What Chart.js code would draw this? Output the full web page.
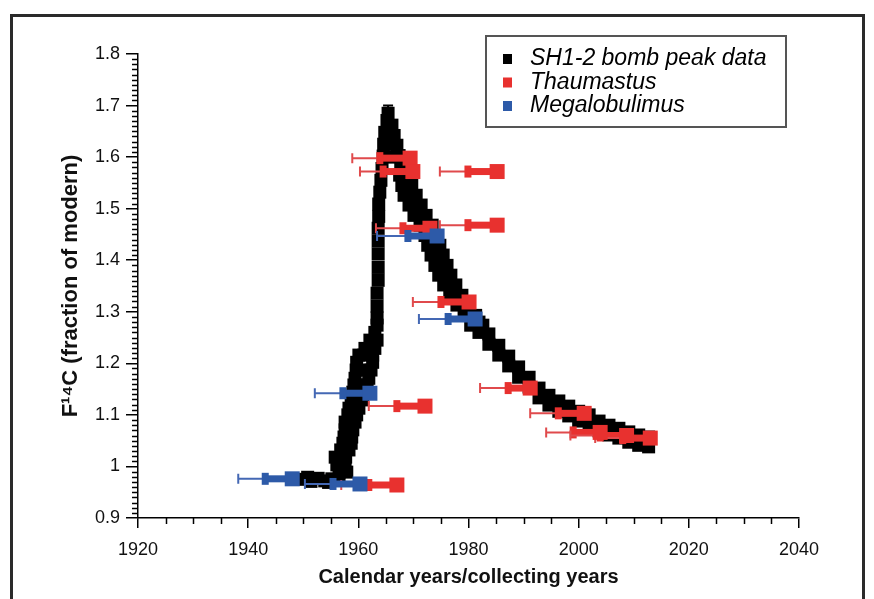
<!DOCTYPE html>
<html><head><meta charset="utf-8">
<script src="https://cdn.jsdelivr.net/npm/chart.js@4.4.1/dist/chart.umd.min.js"></script>
<style>html,body{margin:0;padding:0;background:#fff;} canvas{display:block;}</style>
</head><body>
<canvas id="c" width="874" height="599"></canvas>
<script>
// ---------- DATA ----------
const seriesNames = ['SH1-2 bomb peak data', 'Thaumastus', 'Megalobulimus'];

// SH1-2 bomb peak data (calendar year, F14C)
const bombYears = [
  1950.1,1950.8,1951.4,1952.7,1953.9,1954.6,1955.2,1956.5,
  1956.5,1957.9,1956.1,1957.6,1955.8,1957.7,1956.8,1958.3,1957.2,1958.7,1957.4,1958.8,
  1957.6,1959.0,1957.6,1959.4,1958.1,1959.7,1958.3,1960.1,1958.7,1960.8,1959.0,1961.2,
  1959.2,1961.6,1959.4,1961.9,1959.6,1962.3,1959.7,1962.6,1960.1,1962.6,1961.2,1963.0,
  1962.1,1963.4,1963.0,1963.4,1959.8,1960.3,1960.6,1961.0,
  1963.4,1963.4,1963.4,1963.6,1963.6,1963.6,1963.6,1963.6,1963.7,1963.7,1963.9,1964.1,
  1964.3,1964.5,1964.6,1964.8,1965.2,1965.4,1965.9,1966.0,1965.8,
  1966.1,1966.5,1967.0,1967.4,1967.7,1967.5,1969.0,1967.9,1969.7,1968.3,1970.5,1969.2,1971.4,
  1970.1,1972.3,1971.2,1973.4,1972.1,1974.3,1972.6,1974.8,1973.2,1975.4,1973.9,1976.1,
  1974.6,1976.8,1975.5,1977.7,1976.6,1978.8,1977.9,1980.1,1979.2,1981.3,1980.4,1982.6,
  1981.9,1981.9,1983.7,1983.7,1985.5,1985.5,1987.3,1987.3,1989.1,1989.1,1991.0,1991.0,
  1992.8,1992.8,1994.6,1994.6,1996.4,1996.4,1998.2,1998.2,2000.0,2000.0,2001.9,2001.9,
  2003.7,2003.7,2005.5,2005.5,2007.3,2007.3,2009.1,2009.1,2010.9,2010.9,2012.7,2012.7
];
const bombF14C = [
  0.975,0.979,0.971,0.977,0.972,0.969,0.976,0.973,
  0.989,0.989,1.003,1.003,1.018,1.018,1.032,1.032,1.045,1.045,1.057,1.057,
  1.071,1.071,1.086,1.086,1.100,1.100,1.113,1.113,1.129,1.129,1.144,1.144,
  1.158,1.158,1.171,1.171,1.187,1.187,1.202,1.202,1.216,1.216,1.229,1.229,
  1.245,1.245,1.260,1.274,1.129,1.158,1.187,1.216,
  1.288,1.311,1.336,1.361,1.386,1.412,1.437,1.462,1.485,1.509,1.532,1.555,
  1.578,1.602,1.625,1.648,1.671,1.685,1.645,1.600,1.625,
  1.662,1.642,1.623,1.603,1.584,1.565,1.565,1.545,1.545,1.526,1.526,1.507,1.507,
  1.487,1.487,1.468,1.468,1.448,1.448,1.429,1.429,1.410,1.410,1.390,1.390,
  1.371,1.371,1.352,1.352,1.332,1.332,1.313,1.313,1.293,1.293,1.274,1.274,
  1.280,1.260,1.257,1.237,1.235,1.216,1.214,1.195,1.193,1.173,1.173,1.154,
  1.152,1.133,1.138,1.119,1.127,1.107,1.117,1.098,1.107,1.088,1.100,1.080,
  1.088,1.069,1.080,1.061,1.074,1.055,1.067,1.047,1.061,1.041,1.057,1.038
];
const bombPeakYear = [1965.4];
const bombPeakHigh = [1.700];

// Thaumastus: collecting year (big square), estimated year (mid mark), lower limit (cap), F14C
const thaumYear    = [1985.2,1985.2,1973.0,1969.4,1969.9,1980.1,1972.1,1967.0,1991.2,2001.0,2003.9,2008.7,2013.0];
const thaumMidYear = [1979.9,1979.9,1968.1,1963.9,1964.5,1975.0,1967.0,1961.9,1987.2,1996.3,1999.0,2003.9,2008.0];
const thaumLowYear = [1974.8,1974.8,1963.2,1958.9,1960.3,1969.9,1961.9,1956.9,1982.1,1991.2,1994.1,1998.5,2003.0];
const thaumF14C    = [1.572,1.468,1.462,1.598,1.572,1.319,1.117,0.964,1.152,1.103,1.066,1.060,1.055];

// Megalobulimus
const megaYear    = [1974.3,1981.2,1962.1,1948.0,1960.3];
const megaMidYear = [1969.0,1976.3,1957.2,1943.1,1955.4];
const megaLowYear = [1963.4,1971.0,1952.1,1938.2,1950.3];
const megaF14C    = [1.447,1.286,1.142,0.976,0.966];

// axes
const xMin = 1920, xMax = 2040, xStep = 20, xMinorStep = 5;
const yMin = 0.9, yMax = 1.8, yStep = 0.1, yMinorStep = 0.01;
const xTitle = 'Calendar years/collecting years';
const yTitle = 'F\u00B9\u2074C (fraction of modern)';

// ---------- STYLE ----------
const RED = '#e8312f', RED_THIN = '#e04a4c';
const BLUE = '#2d5aa8', BLUE_THIN = '#4468b4';
const FONT = 'Liberation Sans, Arial, Helvetica, sans-serif';

const toXY = (xs, ys) => xs.map((v, i) => ({x: v, y: ys[i]}));

const whiskerInfo = {
  1: {year: thaumYear, mid: thaumMidYear, low: thaumLowYear, val: thaumF14C, color: RED, thin: RED_THIN},
  2: {year: megaYear, mid: megaMidYear, low: megaLowYear, val: megaF14C, color: BLUE, thin: BLUE_THIN}
};

const whiskerPlugin = {
  id: 'whiskers',
  beforeDatasetDraw(chart, args) {
    const {ctx, scales: {x, y}} = chart;
    ctx.save();
    if (args.index === 0) {
      for (let i = 0; i < bombPeakYear.length; i++) {
        const px = x.getPixelForValue(bombPeakYear[i]);
        const py = y.getPixelForValue(bombPeakHigh[i]);
        const p0 = y.getPixelForValue(1.68);
        ctx.strokeStyle = '#000'; ctx.lineWidth = 2;
        ctx.beginPath(); ctx.moveTo(px, p0); ctx.lineTo(px, py);
        ctx.moveTo(px - 5, py); ctx.lineTo(px + 5, py); ctx.stroke();
      }
    }
    const w = whiskerInfo[args.index];
    if (w) {
      for (let i = 0; i < w.val.length; i++) {
        const py = y.getPixelForValue(w.val[i]);
        const pl = x.getPixelForValue(w.low[i]);
        const pm = x.getPixelForValue(w.mid[i]);
        const pb = x.getPixelForValue(w.year[i]);
        ctx.strokeStyle = w.thin; ctx.lineWidth = 2;
        ctx.beginPath(); ctx.moveTo(pl, py); ctx.lineTo(pm, py);
        ctx.moveTo(pl, py - 5); ctx.lineTo(pl, py + 5); ctx.stroke();
        ctx.fillStyle = w.color;
        ctx.fillRect(pm, py - 3.5, pb - pm, 7);
        ctx.fillRect(pm - 3.5, py - 6, 7, 12);
      }
    }
    ctx.restore();
  }
};

const minorTickPlugin = {
  id: 'minorTicks',
  afterDraw(chart) {
    const {ctx, scales: {x, y}, chartArea} = chart;
    ctx.save();
    ctx.strokeStyle = '#000'; ctx.lineWidth = 1.5;
    ctx.beginPath();
    for (let v = xMin + xMinorStep; v < xMax; v += xMinorStep) {
      if (v % xStep === 0) continue;
      const px = Math.round(x.getPixelForValue(v)) + 0.5;
      ctx.moveTo(px, chartArea.bottom); ctx.lineTo(px, chartArea.bottom + 6);
    }
    for (let i = 1; i < Math.round((yMax - yMin) / yMinorStep); i++) {
      if (i % 10 === 0) continue;
      const py = Math.round(y.getPixelForValue(yMin + i * yMinorStep)) + 0.5;
      ctx.moveTo(chartArea.left - 6, py); ctx.lineTo(chartArea.left, py);
    }
    ctx.stroke();
    ctx.restore();
  }
};

const legendFramePlugin = {
  id: 'legendFrame',
  afterDraw(chart) {
    const {ctx} = chart;
    ctx.save();
    // outer frame
    ctx.strokeStyle = '#2a2a2a'; ctx.lineWidth = 3;
    ctx.strokeRect(11.5, 15.5, 852, 600);
    // legend box
    const bx = 486, by = 36, bw = 300, bh = 91;
    ctx.fillStyle = '#fff';
    ctx.fillRect(bx, by, bw, bh);
    ctx.strokeStyle = '#555'; ctx.lineWidth = 2;
    ctx.strokeRect(bx, by, bw, bh);
    const colors = ['#000', RED, BLUE];
    ctx.font = 'italic 23px ' + FONT;
    ctx.textBaseline = 'middle';
    seriesNames.forEach((name, i) => {
      const cy = by + 22 + i * 23.5;
      ctx.fillStyle = colors[i];
      ctx.fillRect(503, cy - 4, 9, 10);
      ctx.fillStyle = '#000';
      ctx.fillText(name, 530, cy + 1);
    });
    ctx.restore();
  }
};

new Chart(document.getElementById('c'), {
  type: 'scatter',
  data: {
    datasets: [
      {label: seriesNames[0], data: toXY(bombYears, bombF14C), pointStyle: 'rect', pointRadius: 9.2,
       backgroundColor: '#000', borderWidth: 0, order: 3},
      {label: seriesNames[1], data: toXY(thaumYear, thaumF14C), pointStyle: 'rect', pointRadius: 10.6,
       backgroundColor: RED, borderWidth: 0, order: 2},
      {label: seriesNames[2], data: toXY(megaYear, megaF14C), pointStyle: 'rect', pointRadius: 10.6,
       backgroundColor: BLUE, borderWidth: 0, order: 1}
    ]
  },
  options: {
    responsive: false, animation: false, devicePixelRatio: 1,
    layout: {padding: {left: 0, right: 75, top: 54, bottom: 0}},
    plugins: {legend: {display: false}, tooltip: {enabled: false}},
    scales: {
      x: {
        type: 'linear', min: xMin, max: xMax,
        ticks: {stepSize: xStep, color: '#111', font: {family: FONT, size: 18}, padding: 11, maxRotation: 0,
                callback: v => String(v)},
        grid: {drawOnChartArea: false, drawTicks: true, tickLength: 10, color: '#000', lineWidth: 1.5},
        border: {display: true, color: '#000', width: 1.5},
        title: {display: true, text: xTitle, color: '#111', font: {family: FONT, size: 20, weight: 'bold'}, padding: {top: 0, bottom: 10}},
        afterFit(s) { s.height = 81; s.paddingLeft = 0; s.paddingRight = 0; }
      },
      y: {
        type: 'linear', min: yMin, max: yMax,
        ticks: {stepSize: yStep, color: '#111', font: {family: FONT, size: 18}, padding: 6,
                callback: v => String(Math.round(v * 10) / 10)},
        grid: {drawOnChartArea: false, drawTicks: true, tickLength: 12, color: '#000', lineWidth: 1.5},
        border: {display: true, color: '#000', width: 1.5},
        title: {display: true, text: yTitle, color: '#111', font: {family: FONT, size: 22, weight: 'bold'}, padding: {top: 58, bottom: 0}},
        afterFit(s) { s.width = 138; s.paddingTop = 0; s.paddingBottom = 0; }
      }
    }
  },
  plugins: [whiskerPlugin, minorTickPlugin, legendFramePlugin]
});
</script>
</body></html>
